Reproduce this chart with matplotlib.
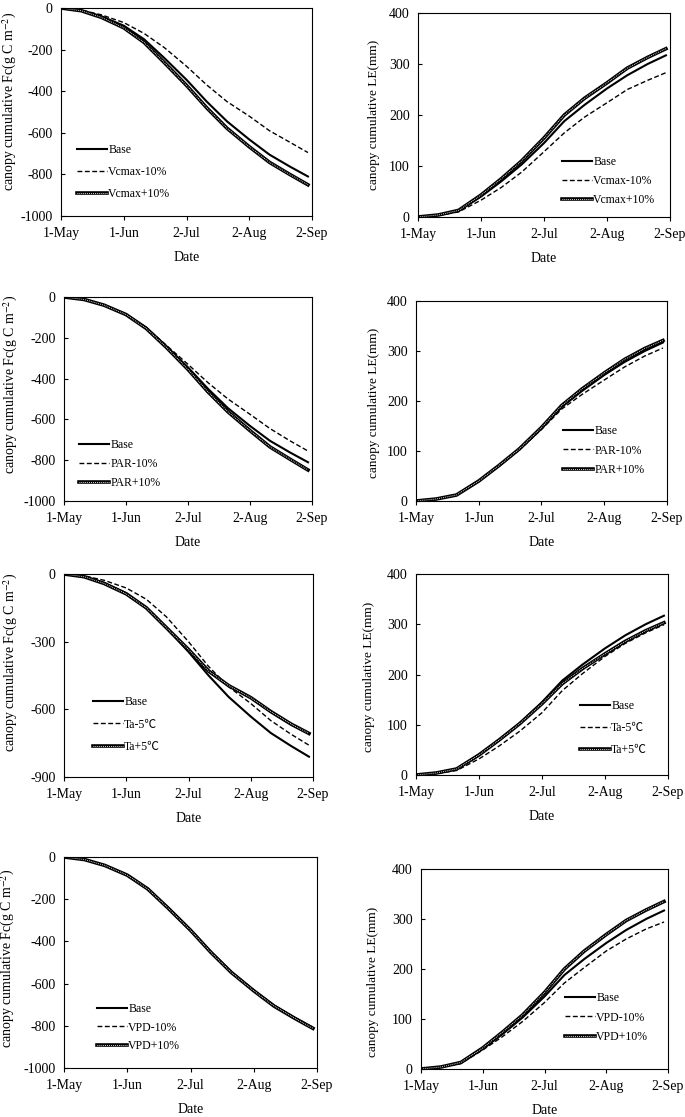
import matplotlib
matplotlib.use("Agg")
import matplotlib.pyplot as plt

plt.rcParams['font.family'] = ['Liberation Serif', 'Noto Sans CJK SC']
plt.rcParams['mathtext.fontset'] = 'stix'
plt.rcParams['axes.unicode_minus'] = False

# Tage ab 1. Mai
days = [0, 10, 20, 31, 41, 51, 62, 72, 82, 93, 103, 113, 122]
date_ticks = [0, 31, 62, 93, 124]
date_labels = ["1-May", "1-Jun", "2-Jul", "2-Aug", "2-Sep"]

# kumulatives Fc (g C m-2)
base_fc = [0, -12, -40, -85, -150, -240, -345, -450, -545, -632, -705, -762, -810]
vcmax_minus_fc = [0, -10, -33, -70, -122, -190, -280, -370, -450, -520, -590, -645, -695]
vcmax_plus_fc = [0, -13, -45, -95, -165, -262, -372, -480, -578, -667, -742, -800, -850]
par_minus_fc = [0, -12, -40, -84, -148, -235, -330, -420, -500, -575, -645, -705, -755]
par_plus_fc = [0, -12, -40, -86, -153, -245, -355, -465, -563, -655, -735, -795, -848]
ta_minus_fc = [0, -8, -28, -62, -112, -190, -300, -410, -500, -574, -650, -710, -759]
ta_plus_fc = [0, -12, -42, -88, -150, -238, -335, -430, -495, -548, -610, -665, -707]
vpd_minus_fc = [0, -12, -40, -84, -149, -238, -343, -448, -543, -630, -702, -760, -807]
vpd_plus_fc = [0, -12, -40, -86, -151, -242, -347, -452, -547, -634, -707, -764, -812]

# kumulatives LE (mm)
base_le = [0, 4, 12, 40, 70, 103, 145, 188, 220, 252, 278, 300, 317]
vcmax_minus_le = [0, 3, 10, 33, 58, 88, 128, 165, 196, 224, 250, 268, 283]
vcmax_plus_le = [0, 4, 13, 43, 75, 110, 155, 200, 233, 263, 292, 313, 330]
par_minus_le = [0, 4, 12, 40, 70, 102, 143, 184, 213, 242, 268, 290, 306]
par_plus_le = [0, 4, 12, 40, 71, 104, 147, 191, 224, 256, 283, 305, 321]
ta_minus_le = [0, 3, 9, 32, 58, 87, 124, 168, 202, 236, 262, 283, 299]
ta_plus_le = [0, 4, 12, 40, 70, 102, 142, 182, 212, 241, 266, 287, 303]
vpd_minus_le = [0, 4, 11, 38, 65, 95, 133, 172, 203, 236, 260, 280, 294]
vpd_plus_le = [0, 4, 13, 42, 74, 108, 153, 200, 236, 269, 297, 318, 335]

fc_label = "canopy cumulative Fc(g C m$^{-2}$)"
le_label = "canopy cumulative LE(mm)"

panels = [
    (base_fc, vcmax_minus_fc, vcmax_plus_fc, ["Base", "Vcmax-10%", "Vcmax+10%"], fc_label, (-1000, 0), range(-1000, 1, 200)),
    (base_le, vcmax_minus_le, vcmax_plus_le, ["Base", "Vcmax-10%", "Vcmax+10%"], le_label, (0, 400), range(0, 401, 100)),
    (base_fc, par_minus_fc, par_plus_fc, ["Base", "PAR-10%", "PAR+10%"], fc_label, (-1000, 0), range(-1000, 1, 200)),
    (base_le, par_minus_le, par_plus_le, ["Base", "PAR-10%", "PAR+10%"], le_label, (0, 400), range(0, 401, 100)),
    (base_fc, ta_minus_fc, ta_plus_fc, ["Base", "Ta-5℃", "Ta+5℃"], fc_label, (-900, 0), range(-900, 1, 300)),
    (base_le, ta_minus_le, ta_plus_le, ["Base", "Ta-5℃", "Ta+5℃"], le_label, (0, 400), range(0, 401, 100)),
    (base_fc, vpd_minus_fc, vpd_plus_fc, ["Base", "VPD-10%", "VPD+10%"], fc_label, (-1000, 0), range(-1000, 1, 200)),
    (base_le, vpd_minus_le, vpd_plus_le, ["Base", "VPD-10%", "VPD+10%"], le_label, (0, 400), range(0, 401, 100)),
]

# Achsen in Pixeln: links, rechts, oben, unten
boxes = [(61, 312, 8, 216), (418, 670, 13, 217),
         (64, 312, 297, 501), (416, 667, 301, 501),
         (64, 313, 574, 777), (416, 668, 574, 775),
         (64, 317, 857, 1068), (421, 668, 869, 1069)]
# Legende: x Start, y erste Zeile, Zeilenabstand (Pixel)
legend_spots = [(77, 151, 23), (562, 163, 20), (79, 446, 20), (563, 432, 20.5),
                (93, 703, 23.5), (580, 707, 23), (97, 1010, 19.5), (565, 999, 20.5)]
# y-Beschriftung: Mitte x, Mitte y (Pixel)
ylabel_spots = [(12, 101), (373, 115), (13, 384), (373, 403),
                (13, 662), (368, 677), (10, 958), (372, 982)]

W, H = 685, 1117
fig = plt.figure(figsize=(W / 100, H / 100), dpi=100)

for (base, minus, plus, names, ylab, ylim, yticks), box, spot, lab in zip(panels, boxes, legend_spots, ylabel_spots):
    l, r, t, b = box
    ax = fig.add_axes([l / W, 1 - b / H, (r - l) / W, (b - t) / H])
    h1, = ax.plot(days, base, color="black", lw=1.5)
    h2, = ax.plot(days, minus, color="black", lw=1.0, dashes=(3.5, 1.8))
    h3a, = ax.plot(days, plus, color="black", lw=2.6)
    h3b, = ax.plot(days, plus, color="white", lw=0.7, dashes=(0.8, 1.2))
    ax.set_xlim(0, 124)
    ax.set_ylim(*ylim)
    ax.set_xticks(date_ticks)
    ax.set_xticklabels(date_labels)
    ax.set_yticks(list(yticks))
    ax.tick_params(axis="both", labelsize=10, length=3, width=0.8, pad=5)
    ax.tick_params(axis="y", direction="in", pad=6)
    ax.set_xlabel("Date", fontsize=10, labelpad=8)
    ax.set_ylabel(ylab, fontsize=10 if ylab == fc_label else 9.5)
    ax.yaxis.set_label_coords((lab[0] + 7) / W, 1 - lab[1] / H, transform=fig.transFigure)
    for s in ax.spines.values():
        s.set_linewidth(0.8)

    x0, y0, sp = spot
    ax.legend([h1, h2, (h3a, h3b)], names, loc="upper left",
              bbox_to_anchor=(x0 / W, 1 - (y0 - 7) / H), bbox_transform=fig.transFigure,
              frameon=False, fontsize=8.5, borderpad=0, borderaxespad=0,
              handlelength=2.5, handletextpad=0.15, labelspacing=(sp - 13) / 11.8)

plt.savefig("out.png", dpi=100)
